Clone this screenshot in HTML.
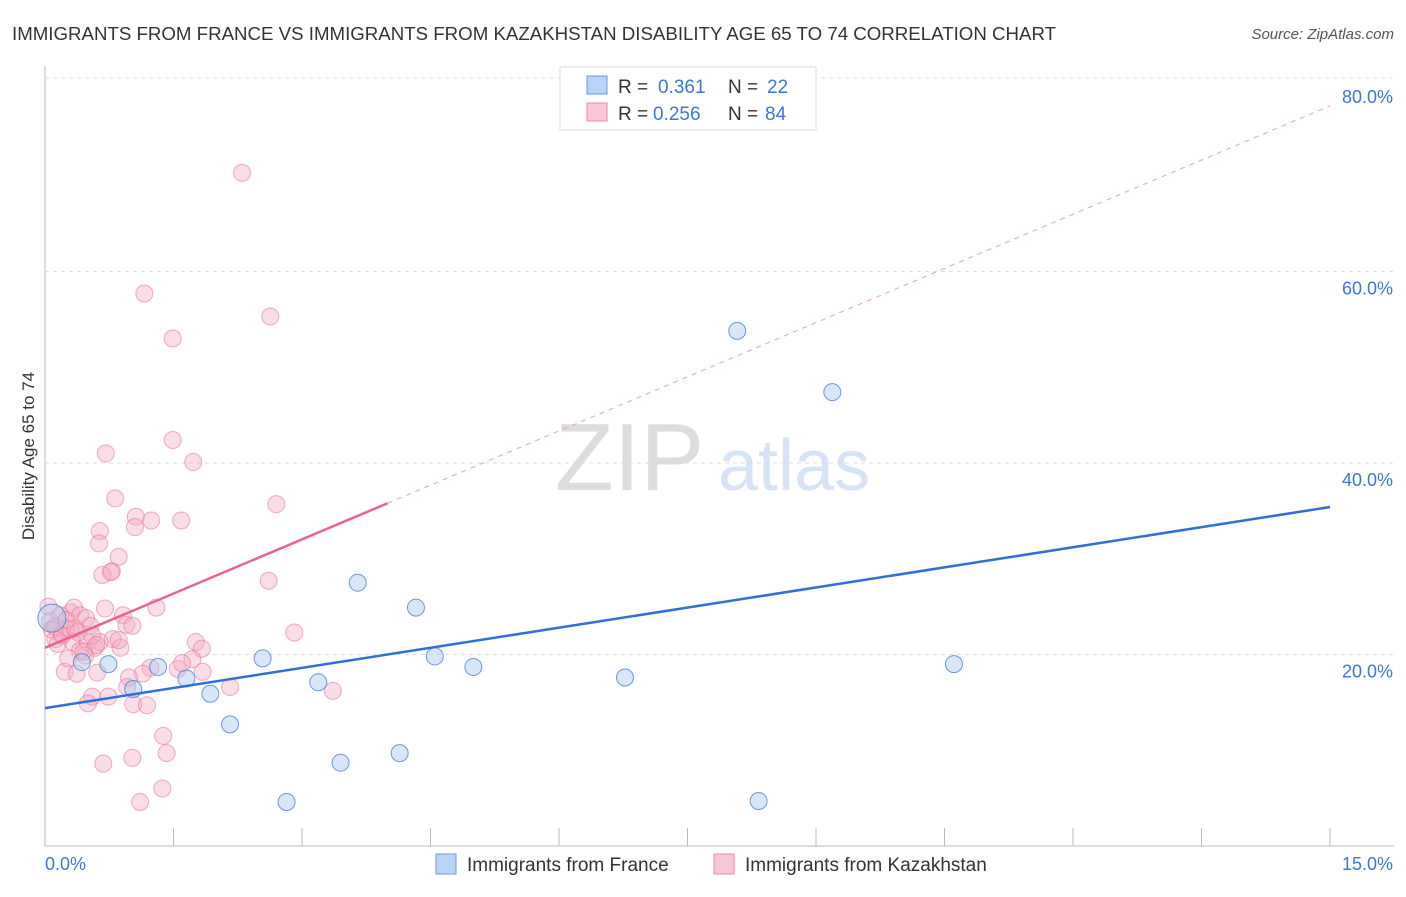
<!DOCTYPE html>
<html><head><meta charset="utf-8"><style>
body{margin:0;background:#fff;font-family:"Liberation Sans",sans-serif}
svg text{font-family:"Liberation Sans",sans-serif}
</style></head><body>
<svg id="c" width="1406" height="892">
<text x="12" y="40" font-size="18" fill="#333" textLength="1044" lengthAdjust="spacingAndGlyphs">IMMIGRANTS FROM FRANCE VS IMMIGRANTS FROM KAZAKHSTAN DISABILITY AGE 65 TO 74 CORRELATION CHART</text>
<text x="1394" y="39" font-size="15" fill="#555" font-style="italic" text-anchor="end">Source: ZipAtlas.com</text>
<text x="34" y="456" font-size="17" fill="#333" text-anchor="middle" transform="rotate(-90 34 456)">Disability Age 65 to 74</text>
<text x="555" y="490" font-size="96" fill="#ddd" font-family="Liberation Serif">ZIP</text>
<text x="718" y="490" font-size="72" fill="#d6e4f5">atlas</text>
<g id="grid"></g><g id="marks"></g>
<g>
<rect x="560" y="67" width="256" height="63" fill="#fff" stroke="#ddd"/>
<rect x="587" y="76" width="20" height="18" fill="#b8d3f5" stroke="#6a9be0"/>
<rect x="587" y="103" width="20" height="18" fill="#f9c8d6" stroke="#e88aa6"/>
<text y="93" font-size="19" fill="#333"><tspan x="618">R =</tspan><tspan x="658" fill="#3a78d8">0.361</tspan><tspan x="728">N =</tspan><tspan x="767" fill="#3a78d8">22</tspan></text>
<text y="120" font-size="19" fill="#333"><tspan x="618">R =</tspan><tspan x="653" fill="#3a78d8">0.256</tspan><tspan x="728">N =</tspan><tspan x="765" fill="#3a78d8">84</tspan></text>
</g>
<g>
<rect x="436" y="854" width="20" height="20" fill="#b8d3f5" stroke="#6a9be0"/>
<text x="467" y="871" font-size="19" fill="#333">Immigrants from France</text>
<rect x="714" y="854" width="20" height="20" fill="#f9c8d6" stroke="#e88aa6"/>
<text x="745" y="871" font-size="19" fill="#333">Immigrants from Kazakhstan</text>
</g>
</svg>
<script>
const yTicks=[20,40,60,80];
const xTickLabels=["0.0%","15.0%"];
const franceX=[0.08,0.43,0.74,1.03,1.32,1.65,1.93,2.16,2.54,2.82,3.19,3.45,3.65,4.14,4.33,4.55,5.0,6.77,8.08,8.33,9.19,10.61];
const franceY=[23.8,19.2,19.0,16.4,18.7,17.5,15.9,12.7,19.6,4.6,17.1,8.7,27.5,9.7,24.9,19.8,18.7,17.6,53.8,4.7,47.4,19.0];
const kazX=[1.49,0.71,1.73,0.82,2.70,1.06,1.05,1.24,1.59,0.64,0.63,0.86,0.78,0.67,0.77,2.61,0.70,0.91,0.95,1.02,1.30,2.91,1.76,1.83,1.72,1.84,0.79,0.88,0.23,0.37,0.61,1.23,1.55,1.14,0.98,0.96,2.16,3.36,0.55,0.50,0.74,1.03,1.19,1.38,1.42,0.68,1.02,1.37,1.11,
0.04,0.06,0.08,0.12,0.15,0.20,0.25,0.30,0.34,0.41,0.48,0.53,0.32,0.41,0.50,0.58,0.64,0.18,0.27,0.47,0.12,0.20,0.39,2.30,1.16,2.63,1.49,0.30,0.55,0.86,1.60,0.60,0.45,0.35,0.25];
const kazY=[42.4,41.0,40.1,36.3,35.7,34.4,33.3,34.0,34.0,32.9,31.6,30.2,28.7,28.3,28.6,27.7,24.8,24.1,23.1,23.0,24.9,22.3,21.3,20.6,19.5,18.2,21.6,20.7,18.2,18.0,18.1,18.6,18.5,18.0,17.6,16.6,16.6,16.2,15.6,14.9,15.6,14.8,14.7,11.5,9.7,8.6,9.2,6.0,4.6,
25.0,23.5,22.6,21.6,21.1,22.1,22.8,24.4,24.9,24.1,23.8,23.0,21.3,20.4,21.3,20.7,21.3,24.1,19.6,19.9,22.9,22.0,22.3,70.3,57.7,55.3,53.0,22.6,22.0,21.5,19.1,21.0,20.3,22.7,23.6];
const X=v=>45+v*85.67, Y=v=>846-v*9.575;
const NS="http://www.w3.org/2000/svg";
const grid=document.getElementById('grid'),marks=document.getElementById('marks');
function mk(tag,attrs,parent){const e=document.createElementNS(NS,tag);for(const k in attrs)e.setAttribute(k,attrs[k]);parent.appendChild(e);return e;}
let ax=mk('line',{x1:45,y1:66,x2:45,y2:846,stroke:'#bbb'},grid);


let bx=mk('line',{x1:45,y1:846,x2:1394,y2:846,stroke:'#bbb'},grid);


for(let i=1;i<=10;i++){mk('line',{x1:45+i*128.5,y1:828,x2:45+i*128.5,y2:846,stroke:'#bbb'},grid);}
yTicks.forEach(t=>{mk('line',{x1:45,y1:Y(t)-(t===80?2:0),x2:1394,y2:Y(t)-(t===80?2:0),stroke:'#ddd','stroke-dasharray':'4,4'},grid);
 const tx=mk('text',{x:1393,y:Y(t)+23,'font-size':18,fill:'#3a78d8','text-anchor':'end'},grid);tx.textContent=t.toFixed(1)+'%';
 
 });
const l0=mk('text',{x:45,y:870,'font-size':18,fill:'#3a78d8'},grid);l0.textContent=xTickLabels[0];


const l1=mk('text',{x:1393,y:870,'font-size':18,fill:'#3a78d8','text-anchor':'end'},grid);l1.textContent=xTickLabels[1];


kazX.forEach((x,i)=>{const c=mk('circle',{cx:X(x),cy:Y(kazY[i]),r:8.5,fill:'rgba(246,170,195,0.4)',stroke:'rgba(232,120,155,0.6)','stroke-width':1},marks);
 
 });
franceX.forEach((x,i)=>{const c=mk('circle',{cx:X(x),cy:Y(franceY[i]),r:i===0?14:8.5,fill:'rgba(170,200,240,0.45)',stroke:'rgba(70,130,215,0.8)','stroke-width':1},marks);
 
 });
const bl=mk('line',{x1:X(0),y1:Y(14.4),x2:X(15),y2:Y(35.4),stroke:'#2f6fd6','stroke-width':2.5},marks);


const pl=mk('line',{x1:X(0),y1:Y(20.7),x2:X(4),y2:Y(35.8),stroke:'#e8638f','stroke-width':2.5},marks);


const pd=mk('line',{x1:X(4),y1:Y(35.8),x2:X(15),y2:Y(77.3),stroke:'#eaa0b8','stroke-width':1,'stroke-dasharray':'5,5'},marks);


</script>
</body></html>
